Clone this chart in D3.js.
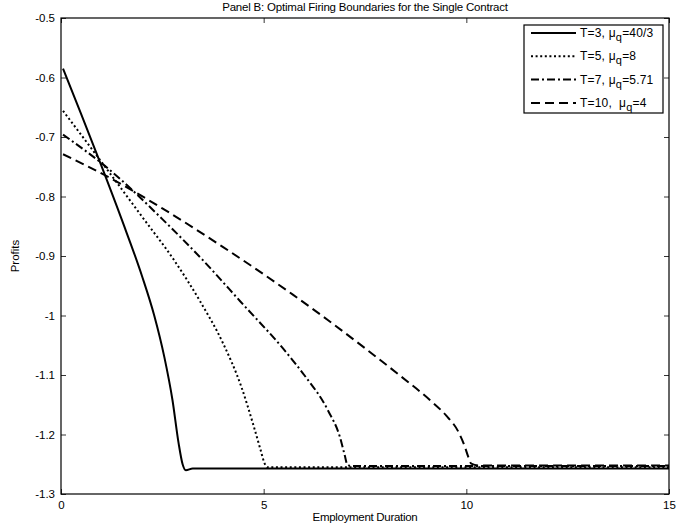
<!DOCTYPE html>
<html>
<head>
<meta charset="utf-8">
<script src="https://cdn.jsdelivr.net/npm/d3@7"></script>
<style>
  body { margin: 0; background: #fff; }
  text { font-family: "Liberation Sans", Arial, sans-serif; fill: #000; }
</style>
</head>
<body>
<script>
// Employment duration (x) and profit boundary (y) for each contract length
const t3 = [0.05, 0.5, 1.0, 1.5, 2.0, 2.3, 2.55, 2.75, 2.9, 3.0, 3.08, 3.25, 15];
const v3 = [-0.585, -0.662, -0.749, -0.839, -0.934, -1.0, -1.07, -1.142, -1.214, -1.25, -1.26, -1.257, -1.257];

const t5 = [0.05, 1.0, 2.0, 2.8, 3.43, 4.0, 4.45, 4.75, 4.92, 5.02, 5.1, 15];
const v5 = [-0.656, -0.742, -0.834, -0.908, -0.976, -1.047, -1.12, -1.185, -1.225, -1.248, -1.255, -1.255];

const t7 = [0.05, 1.18, 2.5, 3.5, 4.42, 5.57, 6.0, 6.59, 6.88, 7.0, 7.06, 7.15, 15];
const v7 = [-0.696, -0.754, -0.838, -0.907, -0.976, -1.063, -1.1, -1.16, -1.204, -1.235, -1.25, -1.253, -1.253];

const t10 = [0.05, 1.27, 2.5, 4.0, 5.72, 6.59, 7.5, 8.4, 9.1, 9.5, 9.8, 9.95, 10.05, 10.12, 10.3, 15];
const v10 = [-0.729, -0.771, -0.82, -0.885, -0.965, -1.008, -1.055, -1.103, -1.142, -1.168, -1.195, -1.218, -1.238, -1.249, -1.252, -1.252];

const seriesNames = ["T=3, ", "T=5, ", "T=7, ", "T=10,  "];
const seriesMu = ["=40/3", "=8", "=5.71", "=4"];
const seriesDash = [null, "2,2.6", "8,3,2,3", "9,5"];

const xTicks = [0, 5, 10, 15];
const yTicks = [-0.5, -0.6, -0.7, -0.8, -0.9, -1, -1.1, -1.2, -1.3];

const [w, h] = [678, 526];
const margin = { top: 18, right: 9, bottom: 32, left: 61 };

const svg = d3.select('body')
    .append('svg')
    .attr('width', w)
    .attr('height', h);

const x = d3.scaleLinear().domain([0, 15]).range([margin.left, w - margin.right]);
const y = d3.scaleLinear().domain([-1.3, -0.5]).range([h - margin.bottom, margin.top]);

// Title
svg.append('text')
    .attr('x', (margin.left + w - margin.right) / 2)
    .attr('y', 11)
    .attr('text-anchor', 'middle')
    .attr('font-size', '11.5px')
    .attr('letter-spacing', '-0.2px')
    .text('Panel B: Optimal Firing Boundaries for the Single Contract');

// Axes, ticks pointing inward on all sides
const axisBottom = d3.axisBottom(x).tickValues(xTicks).tickSize(-5).tickPadding(7).tickFormat(d => String(d));
const axisTop = d3.axisTop(x).tickValues(xTicks).tickSize(-5).tickFormat('');
const axisLeft = d3.axisLeft(y).tickValues(yTicks).tickSize(-5).tickPadding(6).tickFormat(d => String(d));
const axisRight = d3.axisRight(y).tickValues(yTicks).tickSize(-5).tickFormat('');

function styleAxis(g) {
    g.select('.domain').remove();
    g.selectAll('line').attr('stroke', '#000').attr('stroke-width', 0.8);
    g.selectAll('text').attr('font-size', '11.5px').attr('font-family', '"Liberation Sans", Arial, sans-serif');
}

svg.append('g').attr('transform', `translate(0, ${h - margin.bottom})`).call(axisBottom).call(styleAxis);
svg.append('g').attr('transform', `translate(0, ${margin.top})`).call(axisTop).call(styleAxis);
svg.append('g').attr('transform', `translate(${margin.left}, 0)`).call(axisLeft).call(styleAxis);
svg.append('g').attr('transform', `translate(${w - margin.right}, 0)`).call(axisRight).call(styleAxis);

// Axis labels
svg.append('text')
    .attr('x', (margin.left + w - margin.right) / 2)
    .attr('y', 521)
    .attr('text-anchor', 'middle')
    .attr('font-size', '11.5px')
    .attr('letter-spacing', '-0.3px')
    .text('Employment Duration');

svg.append('text')
    .attr('transform', `translate(19, ${(margin.top + h - margin.bottom) / 2}) rotate(-90)`)
    .attr('text-anchor', 'middle')
    .attr('font-size', '11.5px')
    .text('Profits');

// Curves
const series = [[t3, v3], [t5, v5], [t7, v7], [t10, v10]];
const line = d3.line()
    .x(d => x(d[0]))
    .y(d => y(d[1]))
    .curve(d3.curveMonotoneX);

const plot = svg.append('g');
series.forEach(([ts, vs], i) => {
    plot.append('path')
        .datum(ts.map((tv, j) => [tv, vs[j]]))
        .attr('fill', 'none')
        .attr('stroke', '#000')
        .attr('stroke-width', 2)
        .attr('stroke-dasharray', seriesDash[i])
        .attr('d', line);
});

// Plot frame
svg.append('rect')
    .attr('x', margin.left)
    .attr('y', margin.top)
    .attr('width', w - margin.left - margin.right)
    .attr('height', h - margin.top - margin.bottom)
    .attr('fill', 'none')
    .attr('stroke', '#000')
    .attr('stroke-width', 1.2);

// Legend
const legend = svg.append('g').attr('transform', 'translate(524, 25)');
legend.append('rect')
    .attr('width', 139)
    .attr('height', 88)
    .attr('fill', '#fff')
    .attr('stroke', '#000')
    .attr('stroke-width', 1.2);

seriesNames.forEach((name, i) => {
    const ry = 8 + i * 23.3;
    legend.append('line')
        .attr('x1', 7).attr('x2', 52)
        .attr('y1', ry).attr('y2', ry)
        .attr('stroke', '#000')
        .attr('stroke-width', 2)
        .attr('stroke-dasharray', seriesDash[i]);
    const txt = legend.append('text')
        .attr('x', 56)
        .attr('y', ry + 4)
        .attr('font-size', '12px')
        .attr('letter-spacing', '0.2px')
        .attr('xml:space', 'preserve')
        .style('white-space', 'pre');
    txt.append('tspan').text(name + 'μ');
    txt.append('tspan').attr('dy', 4).attr('font-size', '11px').text('q');
    txt.append('tspan').attr('dy', -4).text(seriesMu[i]);
});
</script>
</body>
</html>
